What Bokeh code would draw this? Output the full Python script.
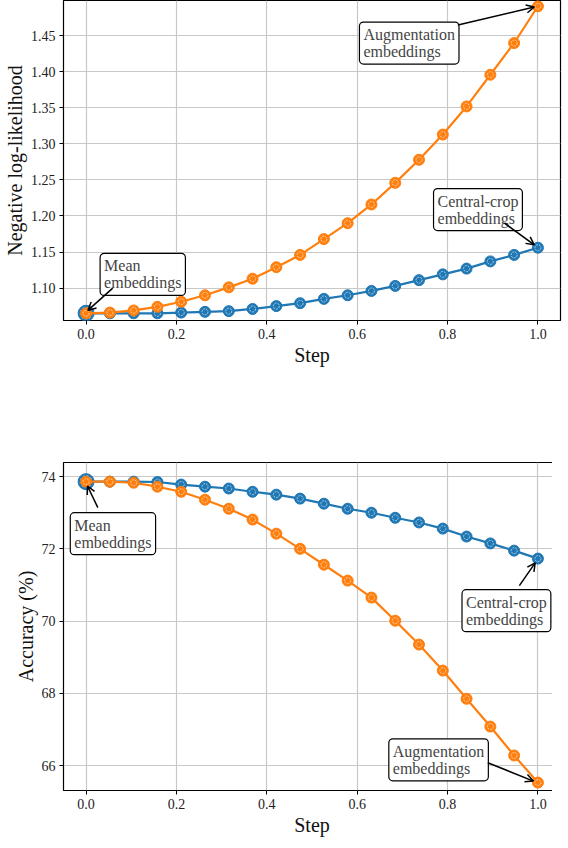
from bokeh.plotting import figure
from bokeh.layouts import column
from bokeh.models import (Range1d, FixedTicker, Label, Arrow, OpenHead, PrintfTickFormatter)
from bokeh.embed import file_html
from bokeh.resources import INLINE

steps = [i / 19 for i in range(20)]
nll_central = [1.065, 1.065, 1.065, 1.065, 1.066, 1.067, 1.068, 1.071, 1.075, 1.079,
               1.085, 1.090, 1.096, 1.103, 1.111, 1.119, 1.127, 1.137, 1.146, 1.156]
nll_aug = [1.065, 1.066, 1.069, 1.074, 1.081, 1.090, 1.101, 1.113, 1.129, 1.146,
           1.168, 1.190, 1.216, 1.246, 1.278, 1.313, 1.352, 1.396, 1.440, 1.491]
acc_central = [73.86, 73.86, 73.86, 73.85, 73.78, 73.72, 73.67, 73.58, 73.50, 73.39,
               73.25, 73.11, 73.00, 72.86, 72.73, 72.56, 72.34, 72.15, 71.95, 71.73]
acc_aug = [73.86, 73.86, 73.83, 73.72, 73.58, 73.36, 73.11, 72.81, 72.42, 72.00,
           71.56, 71.12, 70.65, 70.01, 69.35, 68.63, 67.85, 67.08, 66.28, 65.53]
x_ticks = [0.0, 0.2, 0.4, 0.6, 0.8, 1.0]
nll_ticks = [1.10, 1.15, 1.20, 1.25, 1.30, 1.35, 1.40, 1.45]
acc_ticks = [66, 68, 70, 72, 74]

BLUE = "#1f77b4"
ORANGE = "#ff7f0e"
FONT = "'Liberation Serif', serif"


def make_fig(yr, yticks, yfmt, ylabel, min_top, min_bottom, fh):
    p = figure(frame_width=497, frame_height=fh, min_border_left=52, min_border_right=3,
               min_border_top=min_top, min_border_bottom=min_bottom,
               x_range=Range1d(-0.05, 1.05), y_range=Range1d(*yr),
               output_backend="svg", toolbar_location=None)
    p.outline_line_color = "black"
    p.outline_line_width = 1.2
    p.outline_line_alpha = 1
    for ax in (p.xaxis, p.yaxis):
        ax.axis_line_color = None
        ax.major_tick_out = 4
        ax.major_tick_in = 0
        ax.minor_tick_line_color = None
        ax.major_tick_line_color = "black"
        ax.major_label_text_font = FONT
        ax.major_label_text_font_size = "14px"
        ax.major_label_text_color = "#222222"
        ax.major_label_standoff = 4
        ax.axis_label_text_font = FONT
        ax.axis_label_text_font_size = "20px"
        ax.axis_label_text_font_style = "normal"
        ax.axis_label_text_color = "#111111"
    p.xaxis.ticker = FixedTicker(ticks=x_ticks)
    p.xaxis.formatter = PrintfTickFormatter(format="%.1f")
    p.yaxis.ticker = FixedTicker(ticks=yticks)
    p.yaxis.formatter = PrintfTickFormatter(format=yfmt)
    p.xaxis.axis_label = "Step"
    p.xaxis.axis_label_standoff = 2
    p.yaxis.axis_label = ylabel
    p.yaxis.axis_label_standoff = 2
    p.grid.grid_line_color = "#c8c8c8"
    p.grid.grid_line_width = 1.2
    p.background_fill_color = "white"
    return p


def add_series(p, ys, color, big_first=False):
    if big_first:
        p.scatter(steps[:1], ys[:1], size=16, fill_color=color, line_color=color)
        p.scatter(steps[:1], ys[:1], size=12, fill_color=None, line_color="white",
                  line_alpha=0.6, line_dash="2 2")
    p.line(steps, ys, line_color=color, line_width=2.2)
    p.scatter(steps, ys, size=11, fill_color=color, line_color=color)
    p.scatter(steps, ys, size=6, fill_color=None, line_color="white",
              line_alpha=0.6, line_width=1, line_dash="2 1")


def annotate(p, text, tx, ty, ax0, ay0, ax1, ay1):
    p.add_layout(Label(x=tx, y=ty, text=text, text_font=FONT, text_font_size="16px",
                       text_align="left", text_baseline="top", text_line_height=1.0,
                       background_fill_color="white", background_fill_alpha=0.95,
                       border_line_color="black", border_line_width=1.2,
                       padding=4, border_radius=4))
    p.add_layout(Arrow(x_start=ax0, y_start=ay0, x_end=ax1, y_end=ay1,
                       line_color="black", line_width=1.5,
                       end=OpenHead(size=8, line_color="black", line_width=1.5)))


top = make_fig((1.055, 1.499), nll_ticks, "%.2f", "Negative log-likelihood", 0, 60, 320)
add_series(top, nll_central, BLUE, big_first=True)
add_series(top, nll_aug, ORANGE)
annotate(top, "Mean\nembeddings", 0.031, 1.148, 0.059, 1.100, steps[0] + 0.004, nll_aug[0] + 0.004)
annotate(top, "Augmentation\nembeddings", 0.605, 1.469, 0.823, 1.465, steps[-1] - 0.008, nll_aug[-1] - 0.001)
annotate(top, "Central-crop\nembeddings", 0.769, 1.238, 0.926, 1.190, steps[-1] - 0.008, nll_central[-1] + 0.004)

bot = make_fig((65.31, 74.39), acc_ticks, "%d", "Accuracy (%)", 82, 42, 328)
add_series(bot, acc_central, BLUE, big_first=True)
add_series(bot, acc_aug, ORANGE)
annotate(bot, "Mean\nembeddings", -0.035, 73.0, 0.026, 73.14, steps[0] + 0.003, acc_aug[0] - 0.12)
annotate(bot, "Central-crop\nembeddings", 0.832, 70.87, 0.959, 70.98, steps[-1] - 0.006, acc_central[-1] - 0.12)
annotate(bot, "Augmentation\nembeddings", 0.670, 66.74, 0.889, 66.08, steps[-1] - 0.01, acc_aug[-1] + 0.04)

layout = column(top, bot, spacing=0)
open("out.html", "w").write(file_html(layout, INLINE))
